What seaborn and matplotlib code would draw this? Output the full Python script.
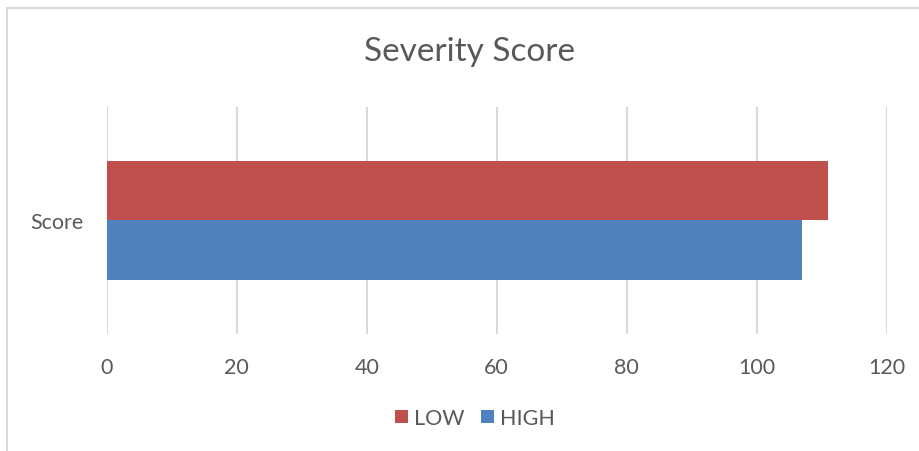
import matplotlib
matplotlib.use("Agg")
import matplotlib.pyplot as plt
from matplotlib.patches import Patch, Rectangle
import pandas as pd
import seaborn as sns

# Chart data
categories = ["Score"]
series_names = ["LOW", "HIGH"]
low_values = [111]
high_values = [107]
x_ticks = [0, 20, 40, 60, 80, 100, 120]
colors = {"LOW": "#C0504D", "HIGH": "#4F81BD"}

df = pd.DataFrame({
    "category": categories * 2,
    "series": ["LOW"] * len(low_values) + ["HIGH"] * len(high_values),
    "value": low_values + high_values,
})

sns.set_theme(style="white")
plt.rcParams["font.family"] = ["Lato", "DejaVu Sans"]
text_color = "#595959"
grid_color = "#D9D9D9"

fig = plt.figure(figsize=(9.2, 4.52), dpi=100)
ax = fig.add_axes([106.7 / 920, 1 - 334.7 / 452, 780 / 920, 227 / 452])

sns.barplot(data=df, y="category", x="value", hue="series",
            hue_order=series_names, palette=colors, orient="h",
            width=0.525, gap=0, saturation=1, legend=False, ax=ax,
            linewidth=0)

ax.set_xlim(0, 120)
ax.set_ylim(0.5, -0.5)
ax.set_xticks(x_ticks)
ax.set_xticklabels([str(t) for t in x_ticks])
ax.set_xlabel("")
ax.set_ylabel("")
ax.grid(axis="x", color=grid_color, linewidth=1.5)
ax.grid(axis="y", visible=False)
ax.set_axisbelow(True)
for s in ax.spines.values():
    s.set_visible(False)
ax.tick_params(axis="x", length=0, pad=17, labelsize=15.5, labelcolor=text_color)
ax.tick_params(axis="y", length=0, pad=17, labelsize=15.5, labelcolor=text_color)

fig.text(470 / 920, 1 - 52 / 452, "Severity Score", ha="center", va="center",
         fontsize=24, color=text_color)

handles = [Patch(facecolor=colors[n], edgecolor="none", label=n) for n in series_names]
fig.legend(handles=handles, loc="center", bbox_to_anchor=(475 / 920, 1 - 419 / 452),
           ncol=2, frameon=False, fontsize=15.5, labelcolor=text_color,
           handlelength=0.6, handleheight=0.6, handletextpad=0.25,
           columnspacing=0.8)

# Outer chart frame
fig.add_artist(Rectangle((7 / 920, -0.1), 1.2, 1 - 9 / 452 + 0.1,
                         transform=fig.transFigure, fill=False,
                         edgecolor=grid_color, linewidth=1.5, clip_on=False))

fig.savefig("out.png", dpi=100, facecolor="white")
